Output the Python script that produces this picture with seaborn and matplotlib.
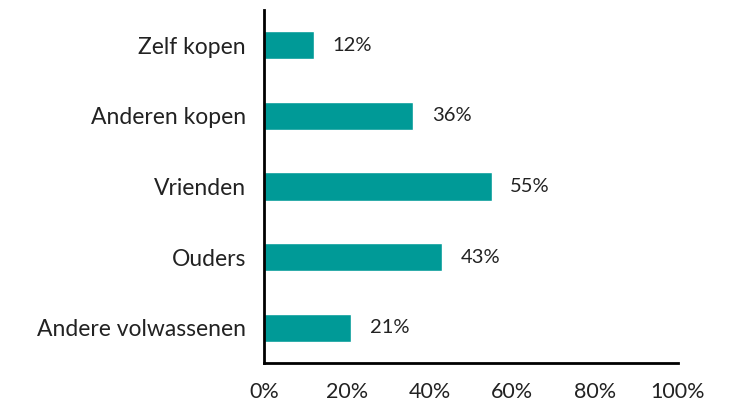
import matplotlib.pyplot as plt
import pandas as pd
import seaborn as sns

categories = ['Zelf kopen', 'Anderen kopen', 'Vrienden', 'Ouders', 'Andere volwassenen']
values = [12, 36, 55, 43, 21]
x_ticks = [0, 20, 40, 60, 80, 100]

df = pd.DataFrame({'category': categories, 'value': values})

sns.set_theme(style='white')
plt.rcParams['font.family'] = ['Lato', 'DejaVu Sans']

fig = plt.figure(figsize=(7.38, 4.09), dpi=100)
ax = fig.add_axes([264 / 738, 1 - 363 / 409, (678 - 264) / 738, (363 - 10) / 409])

sns.barplot(data=df, x='value', y='category', color='#009A97', width=0.4,
            saturation=1, ax=ax)

for i, v in enumerate(values):
    ax.text(v + 4.5, i, f'{v}%', va='center', ha='left', fontsize=14.5, color='#222222')

ax.set_xlim(0, 100)
ax.set_ylim(4.5, -0.5)
ax.set_xticks(x_ticks)
ax.set_xticklabels([f'{t}%' for t in x_ticks])
ax.tick_params(axis='x', length=0, pad=14, labelsize=15.5, labelcolor='#222222')
ax.tick_params(axis='y', length=0, pad=13, labelsize=16.5, labelcolor='#222222')
ax.set_xlabel('')
ax.set_ylabel('')

sns.despine(ax=ax, top=True, right=True)
for side in ['left', 'bottom']:
    ax.spines[side].set_color('black')
    ax.spines[side].set_linewidth(2)

fig.savefig('out.png', dpi=100)
